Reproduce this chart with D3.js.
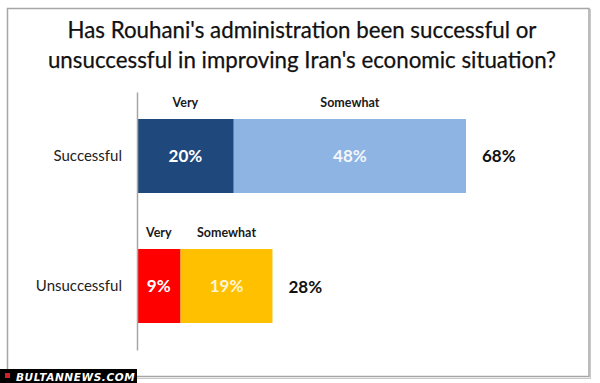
<!DOCTYPE html>
<html><head><meta charset="utf-8">
<script src="https://cdn.jsdelivr.net/npm/d3@7"></script>
<style>html,body{margin:0;padding:0;background:#fff;}svg{display:block;}</style>
</head><body>
<script>
const titleLines = ["Has Rouhani's administration been successful or", "unsuccessful in improving Iran's economic situation?"];
const categories = ["Successful", "Unsuccessful"];
const segmentNames = ["Very", "Somewhat"];
const veryValues = [20, 9];
const somewhatValues = [48, 19];
const totals = [68, 28];
const veryColors = ["#1f497d", "#ff0000"];
const somewhatColors = ["#8db4e2", "#ffc000"];
const somewhatTextColors = ["#f4f6fa", "#fff4d6"];

const W = 600, H = 383;
const svg = d3.select("body").append("svg").attr("width", W).attr("height", H);

// frame
svg.append("rect").attr("x", 7.5).attr("y", 8.5).attr("width", 581.5).attr("height", 368)
  .attr("fill", "none").attr("stroke", "#a6a6a6").attr("stroke-width", 1.5);
svg.append("line").attr("x1", 590.5).attr("x2", 590.5).attr("y1", 9).attr("y2", 378)
  .attr("stroke", "#c8c8c8").attr("stroke-width", 1);
svg.append("line").attr("x1", 8).attr("x2", 591).attr("y1", 378.5).attr("y2", 378.5)
  .attr("stroke", "#c8c8c8").attr("stroke-width", 1);

// title
svg.append("g").selectAll("text").data(titleLines).join("text")
  .attr("x", 302).attr("y", (d, i) => 37.5 + i * 30)
  .attr("text-anchor", "middle")
  .attr("font-family", "Lato, 'Open Sans', sans-serif")
  .attr("font-size", 22.3).attr("fill", "#111")
  .attr("stroke", "#111").attr("stroke-width", 0.25)
  .text(d => d);

// scales
const x = d3.scaleLinear().domain([0, 68]).range([137, 466]);
const y = d3.scaleBand().domain(categories).range([92, 350]).paddingInner(0.4308).paddingOuter(0.2077);

// bars
const rows = categories.map((c, i) => ({
  cat: c,
  segs: [
    {name: segmentNames[0], x0: 0, x1: veryValues[i], v: veryValues[i], fill: veryColors[i], tc: "#ffffff"},
    {name: segmentNames[1], x0: veryValues[i], x1: veryValues[i] + somewhatValues[i], v: somewhatValues[i], fill: somewhatColors[i], tc: somewhatTextColors[i]}
  ],
  total: totals[i]
}));

const g = svg.append("g");
rows.forEach(r => {
  const by = y(r.cat), bh = y.bandwidth();
  g.selectAll(null).data(r.segs).join("rect")
    .attr("x", d => x(d.x0)).attr("y", by)
    .attr("width", d => x(d.x1) - x(d.x0)).attr("height", bh)
    .attr("fill", d => d.fill);
  g.selectAll(null).data(r.segs).join("text")
    .attr("x", d => (x(d.x0) + x(d.x1)) / 2).attr("y", by + bh / 2 + 6)
    .attr("text-anchor", "middle")
    .attr("font-family", "Lato, 'Open Sans', sans-serif").attr("font-weight", "bold")
    .attr("font-size", 17).attr("fill", d => d.tc)
    .text(d => d.v + "%");
  g.selectAll(null).data(r.segs).join("text")
    .attr("x", d => (x(d.x0) + x(d.x1)) / 2).attr("y", by - 12)
    .attr("text-anchor", "middle")
    .attr("font-family", "Lato, 'Open Sans', sans-serif").attr("font-weight", "bold")
    .attr("font-size", 12.5).attr("fill", "#1a1a1a")
    .text(d => d.name);
  g.append("text")
    .attr("x", x(r.total) + 16).attr("y", by + bh / 2 + 6.5)
    .attr("font-family", "Lato, 'Open Sans', sans-serif").attr("font-weight", "bold")
    .attr("font-size", 17).attr("fill", "#111")
    .text(r.total + "%");
});

// category axis
const axis = svg.append("g").attr("transform", `translate(${x(0)},0)`)
  .call(d3.axisLeft(y).tickSize(0).tickPadding(15));
axis.select(".domain").attr("stroke", "#a6a6a6").attr("stroke-width", 1.5);
axis.selectAll("text").attr("font-family", "Lato, 'Open Sans', sans-serif")
  .attr("font-size", 15).attr("fill", "#222");

// logo
const logo = svg.append("g");
logo.append("rect").attr("x", 0).attr("y", 369).attr("width", 137).attr("height", 14).attr("fill", "#000");
logo.append("rect").attr("x", 5).attr("y", 373).attr("width", 5).attr("height", 5).attr("fill", "#d0202a");
logo.append("text").attr("x", 16).attr("y", 380.5)
  .attr("font-family", "'DejaVu Sans', sans-serif").attr("font-weight", "bold").attr("font-style", "italic")
  .attr("font-size", 10.5).attr("letter-spacing", 0.6).attr("fill", "#fff")
  .text("BULTANNEWS.COM");
</script>
</body></html>
